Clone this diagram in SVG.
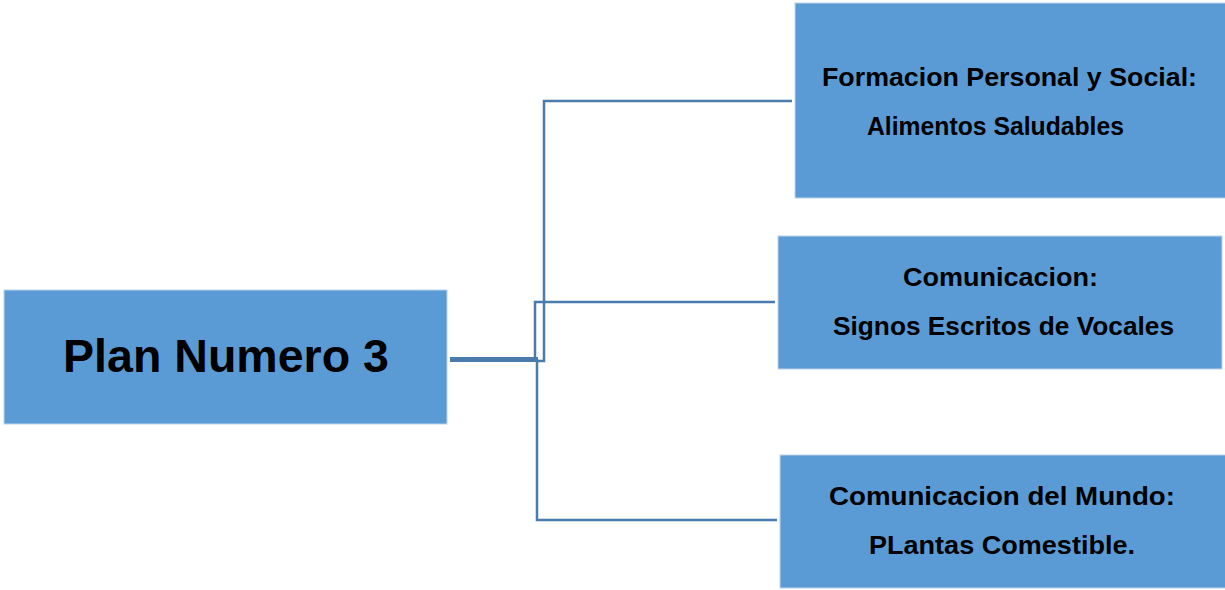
<svg xmlns="http://www.w3.org/2000/svg" width="1225" height="590" viewBox="0 0 1225 590">
<style>
.box{fill:#5b9bd5;stroke:#bcd3ec;stroke-width:1}
.t{font-family:"Liberation Sans",Arial,sans-serif;font-weight:bold;fill:#000;text-anchor:start}
.c{fill:none;stroke:#4a7bad;stroke-width:2.5}
</style>
<rect width="1225" height="590" fill="#fff"/>
<g id="connectors">
<line x1="450" y1="359.5" x2="538" y2="359.5" stroke="#4a7bad" stroke-width="5"/>
<polyline class="c" points="538,361 544,361 544,101 792,101"/>
<polyline class="c" points="538,360 535,360 535,302 775,302"/>
<polyline class="c" points="537,359 537,520 777,520"/>
</g>
<g id="main">
<rect class="box" x="4" y="290" width="443" height="134"/>
<text class="t" x="63" y="372" font-size="47" textLength="326" lengthAdjust="spacingAndGlyphs">Plan Numero 3</text>
</g>
<g id="n1">
<rect class="box" x="795" y="3" width="431" height="195"/>
<text class="t" x="822" y="86" font-size="25.5" textLength="375" lengthAdjust="spacingAndGlyphs">Formacion Personal y Social:</text>
<text class="t" x="867" y="135" font-size="25.5" textLength="257" lengthAdjust="spacingAndGlyphs">Alimentos Saludables</text>
</g>
<g id="n2">
<rect class="box" x="778" y="236" width="444" height="133"/>
<text class="t" x="903" y="286" font-size="25.5" textLength="195" lengthAdjust="spacingAndGlyphs">Comunicacion:</text>
<text class="t" x="833" y="335" font-size="25.5" textLength="341" lengthAdjust="spacingAndGlyphs">Signos Escritos de Vocales</text>
</g>
<g id="n3">
<rect class="box" x="780" y="455" width="446" height="133"/>
<text class="t" x="829" y="505" font-size="25.5" textLength="346" lengthAdjust="spacingAndGlyphs">Comunicacion del Mundo:</text>
<text class="t" x="869" y="554" font-size="25.5" textLength="266" lengthAdjust="spacingAndGlyphs">PLantas Comestible.</text>
</g>
</svg>
